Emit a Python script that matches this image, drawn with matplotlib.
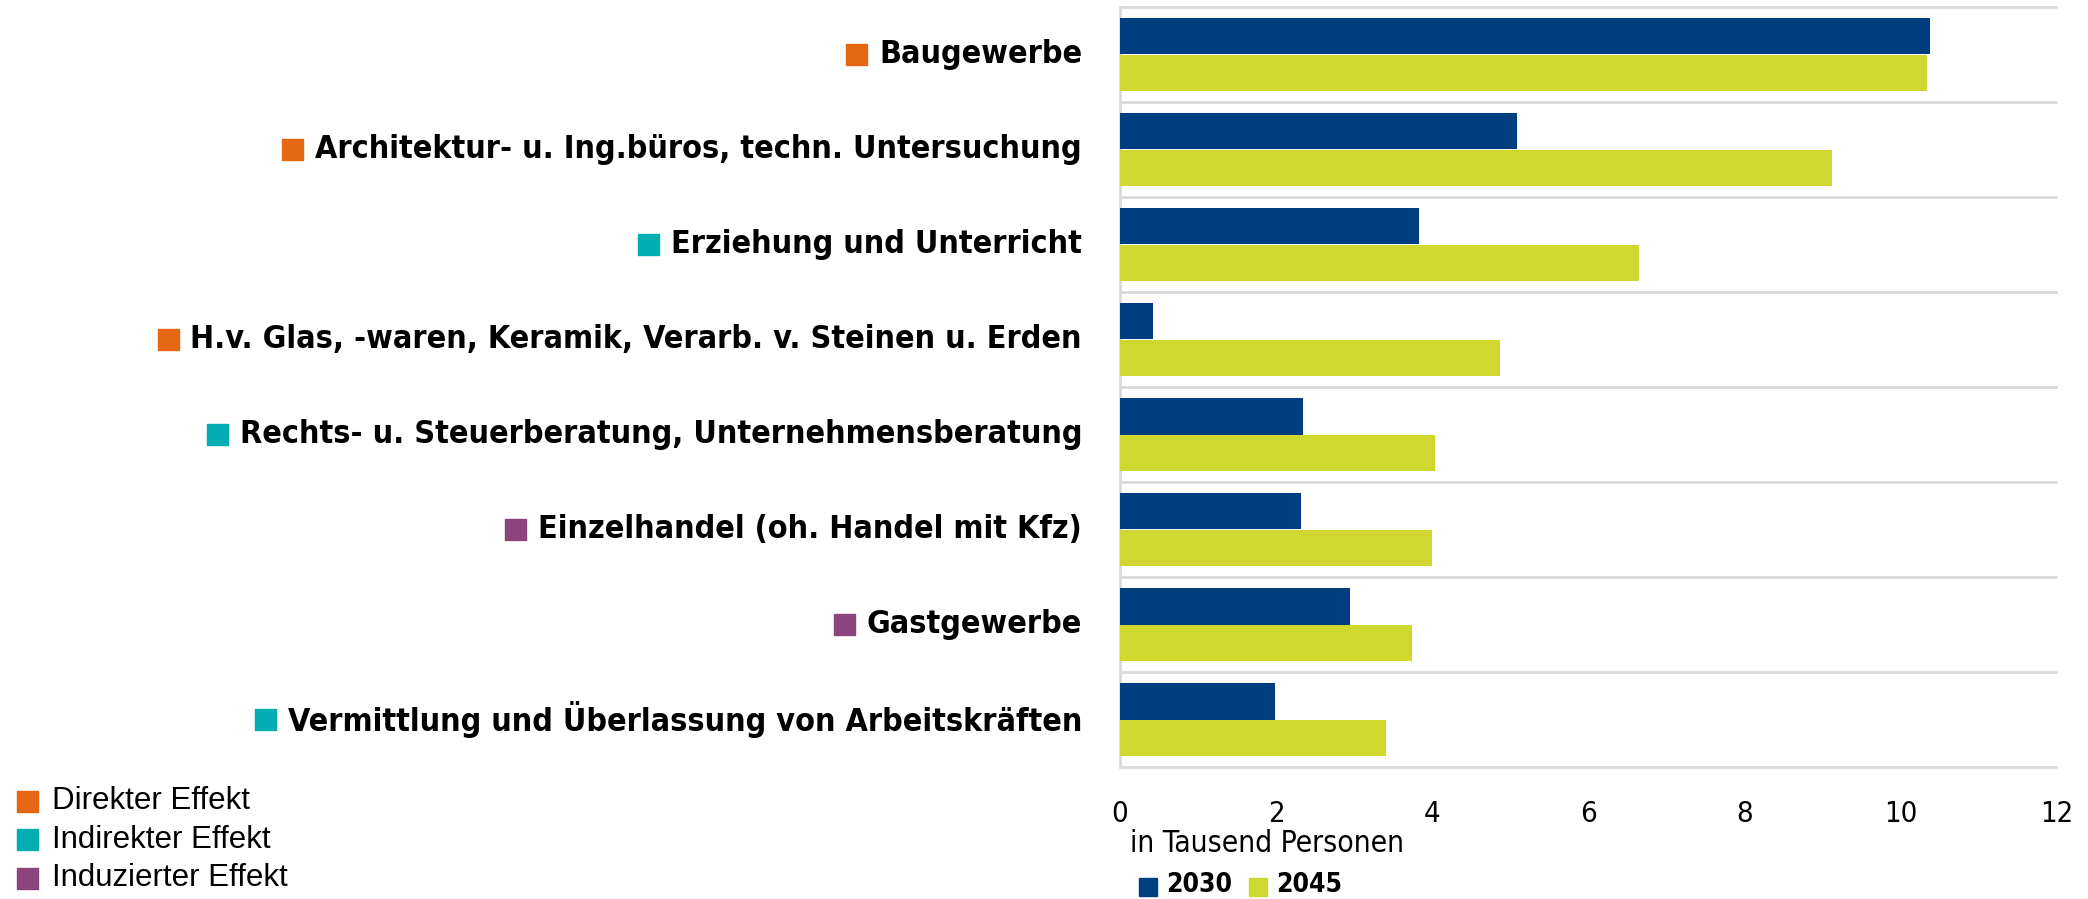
import numpy as np
import matplotlib
matplotlib.use("Agg")
import matplotlib.pyplot as plt
from matplotlib import font_manager
from matplotlib.patches import Rectangle

categories = [
    "Baugewerbe",
    "Architektur- u. Ing.büros, techn. Untersuchung",
    "Erziehung und Unterricht",
    "H.v. Glas, -waren, Keramik, Verarb. v. Steinen u. Erden",
    "Rechts- u. Steuerberatung, Unternehmensberatung",
    "Einzelhandel (oh. Handel mit Kfz)",
    "Gastgewerbe",
    "Vermittlung und Überlassung von Arbeitskräften",
]
effect = ["direkt", "direkt", "indirekt", "direkt", "indirekt", "induziert", "induziert", "indirekt"]
v2030 = [10.37, 5.08, 3.83, 0.42, 2.34, 2.32, 2.94, 1.99]
v2045 = [10.33, 9.12, 6.65, 4.87, 4.04, 3.99, 3.74, 3.41]
years = ["2030", "2045"]
effect_labels = ["Direkter Effekt", "Indirekter Effekt", "Induzierter Effekt"]

effect_colors = {"direkt": "#E56713", "indirekt": "#00ADB1", "induziert": "#8B447D"}
c2030 = "#003F7F"
c2045 = "#CFD82E"
grid_c = "#D9D9D9"

# condensed font, if there is one
names = set(f.name for f in font_manager.fontManager.ttflist)
if "Liberation Sans Narrow" in names:
    cond = dict(family="Liberation Sans Narrow")
else:
    cond = dict(family="DejaVu Sans", stretch="condensed")

W, H = 2088, 899
fig = plt.figure(figsize=(W / 100, H / 100), dpi=100)
x0, x1, y0, y1 = 1120, 2057, 7, 767
ax = fig.add_axes([x0 / W, 1 - y1 / H, (x1 - x0) / W, (y1 - y0) / H])

y = np.arange(len(categories))
h = 0.38
ax.barh(y - h / 2, v2030, height=h, color=c2030, zorder=3)
ax.barh(y + h / 2, v2045, height=h, color=c2045, zorder=3)
ax.set_xlim(0, 12)
ax.set_ylim(len(categories) - 0.5, -0.5)
ax.hlines(np.arange(-0.5, len(categories)), 0, 12, color=grid_c, lw=2, zorder=1, clip_on=False)

for s in ["top", "right", "bottom"]:
    ax.spines[s].set_visible(False)
ax.spines["left"].set_color(grid_c)
ax.spines["left"].set_linewidth(2)
ax.set_yticks([])
ax.set_xticks(np.arange(0, 13, 2))
ax.tick_params(axis="x", length=0, pad=24)
for t in ax.get_xticklabels():
    t.set_fontproperties(font_manager.FontProperties(size=21, **cond))

# category labels, fitted to the longest label width
fig.canvas.draw()
r = fig.canvas.get_renderer()
label_right = 1082
labels = []
for i, c in enumerate(categories):
    yy = 1 - (y0 + (i + 0.5) * (y1 - y0) / len(categories)) / H
    t = fig.text(label_right / W, yy, c, ha="right", va="center", fontsize=24,
                 fontweight="bold", **cond)
    labels.append(t)
wmax = labels[3].get_window_extent(r).width
fs = 24 * 894 / wmax
for t in labels:
    t.set_fontsize(fs)
fig.canvas.draw()
sq = 21
for i, (t, e) in enumerate(zip(labels, effect)):
    bb = t.get_window_extent(r)
    cy = y0 + (i + 0.5) * (y1 - y0) / len(categories)
    fig.patches.append(Rectangle(((bb.x0 - 12 - sq) / W, 1 - (cy + sq / 2) / H), sq / W, sq / H,
                                 transform=fig.transFigure, color=effect_colors[e]))

# axis caption
fig.text(1130 / W, 1 - 843 / H, "in Tausend Personen", ha="left", va="center",
         fontsize=21.5, **cond)

# year legend
for sx, tx, col, lab in [(1139, 1166, c2030, years[0]), (1249, 1276, c2045, years[1])]:
    fig.patches.append(Rectangle((sx / W, 1 - 896 / H), 18 / W, 18 / H,
                                 transform=fig.transFigure, color=col))
    fig.text(tx / W, 1 - 885 / H, lab, ha="left", va="center", fontsize=19,
             fontweight="bold", **cond)

# effect legend
for i, (lab, key) in enumerate(zip(effect_labels, ["direkt", "indirekt", "induziert"])):
    cy = 801 + i * 38.5
    fig.patches.append(Rectangle((17 / W, 1 - (cy + 10.5) / H), 21 / W, 21 / H,
                                 transform=fig.transFigure, color=effect_colors[key]))
    fig.text(52 / W, 1 - cy / H, lab, ha="left", va="center", fontsize=22.5,
             family="Liberation Sans")

fig.savefig("out.png", dpi=100)
